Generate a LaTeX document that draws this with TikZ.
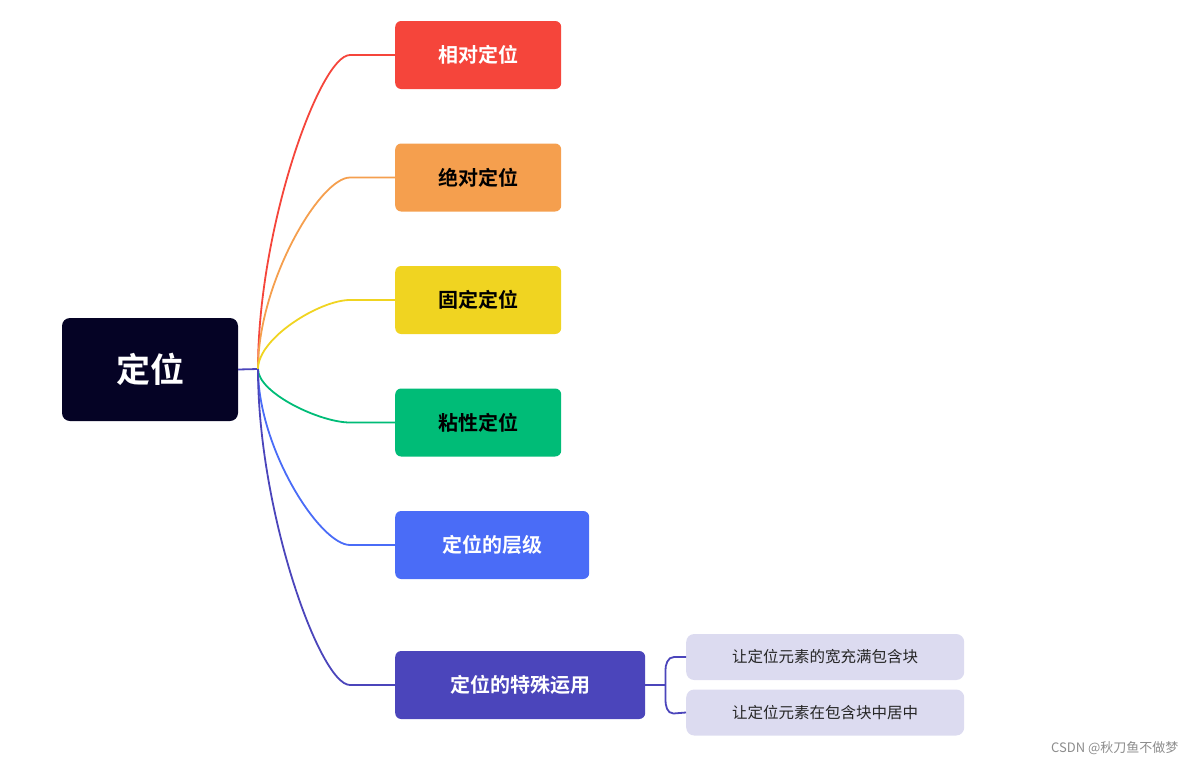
\documentclass[tikz,border=0pt]{standalone}
\usepackage{fontspec}
\usetikzlibrary{calc}
\newfontfamily\cjk{Noto Sans CJK SC}
\newfontfamily\cjkb{Noto Sans CJK SC Bold}
\definecolor{cRoot}{HTML}{050325}
\definecolor{cRed}{HTML}{F5453B}
\definecolor{cOrg}{HTML}{F59F4E}
\definecolor{cYel}{HTML}{F0D421}
\definecolor{cGrn}{HTML}{00BC77}
\definecolor{cBlu}{HTML}{4A6CF7}
\definecolor{cPur}{HTML}{4B45BB}
\definecolor{cSub}{HTML}{DCDBF0}
\begin{document}
\begin{tikzpicture}[x=1pt,y=-1pt,
  kid/.style={rounded corners=6pt,minimum height=68pt,anchor=west,inner xsep=0pt,font=\cjkb\fontsize{20}{24}\selectfont},
  sub/.style={rounded corners=8pt,fill=cSub,minimum height=46pt,minimum width=278pt,anchor=west,inner xsep=0pt,font=\cjk\fontsize{15.5}{18}\selectfont,text=black!85},
  link/.style={line width=1.8pt}]
\useasboundingbox (0,0) rectangle (1195,769);
\node[fill=cRoot,rounded corners=8pt,minimum width=176pt,minimum height=103pt,text=white,font=\cjkb\fontsize{34}{40}\selectfont] (root) at (150,369.5) {定位};
\coordinate (hub) at (258,369);
\node[kid,fill=cRed,minimum width=166pt,text=white] (a) at (395,55) {相对定位};
\node[kid,fill=cOrg,minimum width=166pt,text=black] (b) at (395,177.5) {绝对定位};
\node[kid,fill=cYel,minimum width=166pt,text=black] (c) at (395,300) {固定定位};
\node[kid,fill=cGrn,minimum width=166pt,text=black] (d) at (395,422.5) {粘性定位};
\node[kid,fill=cBlu,minimum width=194pt,text=white] (e) at (395,545) {定位的层级};
\node[kid,fill=cPur,minimum width=250pt,text=white] (f) at (395,685) {定位的特殊运用};
\node[sub] (s1) at (686,657) {让定位元素的宽充满包含块};
\node[sub] (s2) at (686,712.5) {让定位元素在包含块中居中};
\draw[link,cPur] (root.east) -- (hub);
\foreach \n/\col in {a/cRed,b/cOrg,c/cYel,d/cGrn,e/cBlu,f/cPur}{
  \draw[link,\col] (hub) .. controls ($(hub)!0.45!(hub|-\n.west)$) and ($(\n.west)+(-75,0)$) .. ($(\n.west)+(-45,0)$) -- (\n.west);
}
\draw[link,cPur] (f.east) -- ++(20,0) coordinate (br);
\draw[link,cPur] (s1.west) -- ++(-12,0) to[out=180,in=90] ($(br)+(0,-14)$) -- ($(br)+(0,14)$) to[out=-90,in=180] ++(8,14.5) -- (s2.west);
\node[font=\cjk\fontsize{13}{15}\selectfont,text=black!45,anchor=east] (wm) at (1182,748) {CSDN @秋刀鱼不做梦};
\end{tikzpicture}
\end{document}
